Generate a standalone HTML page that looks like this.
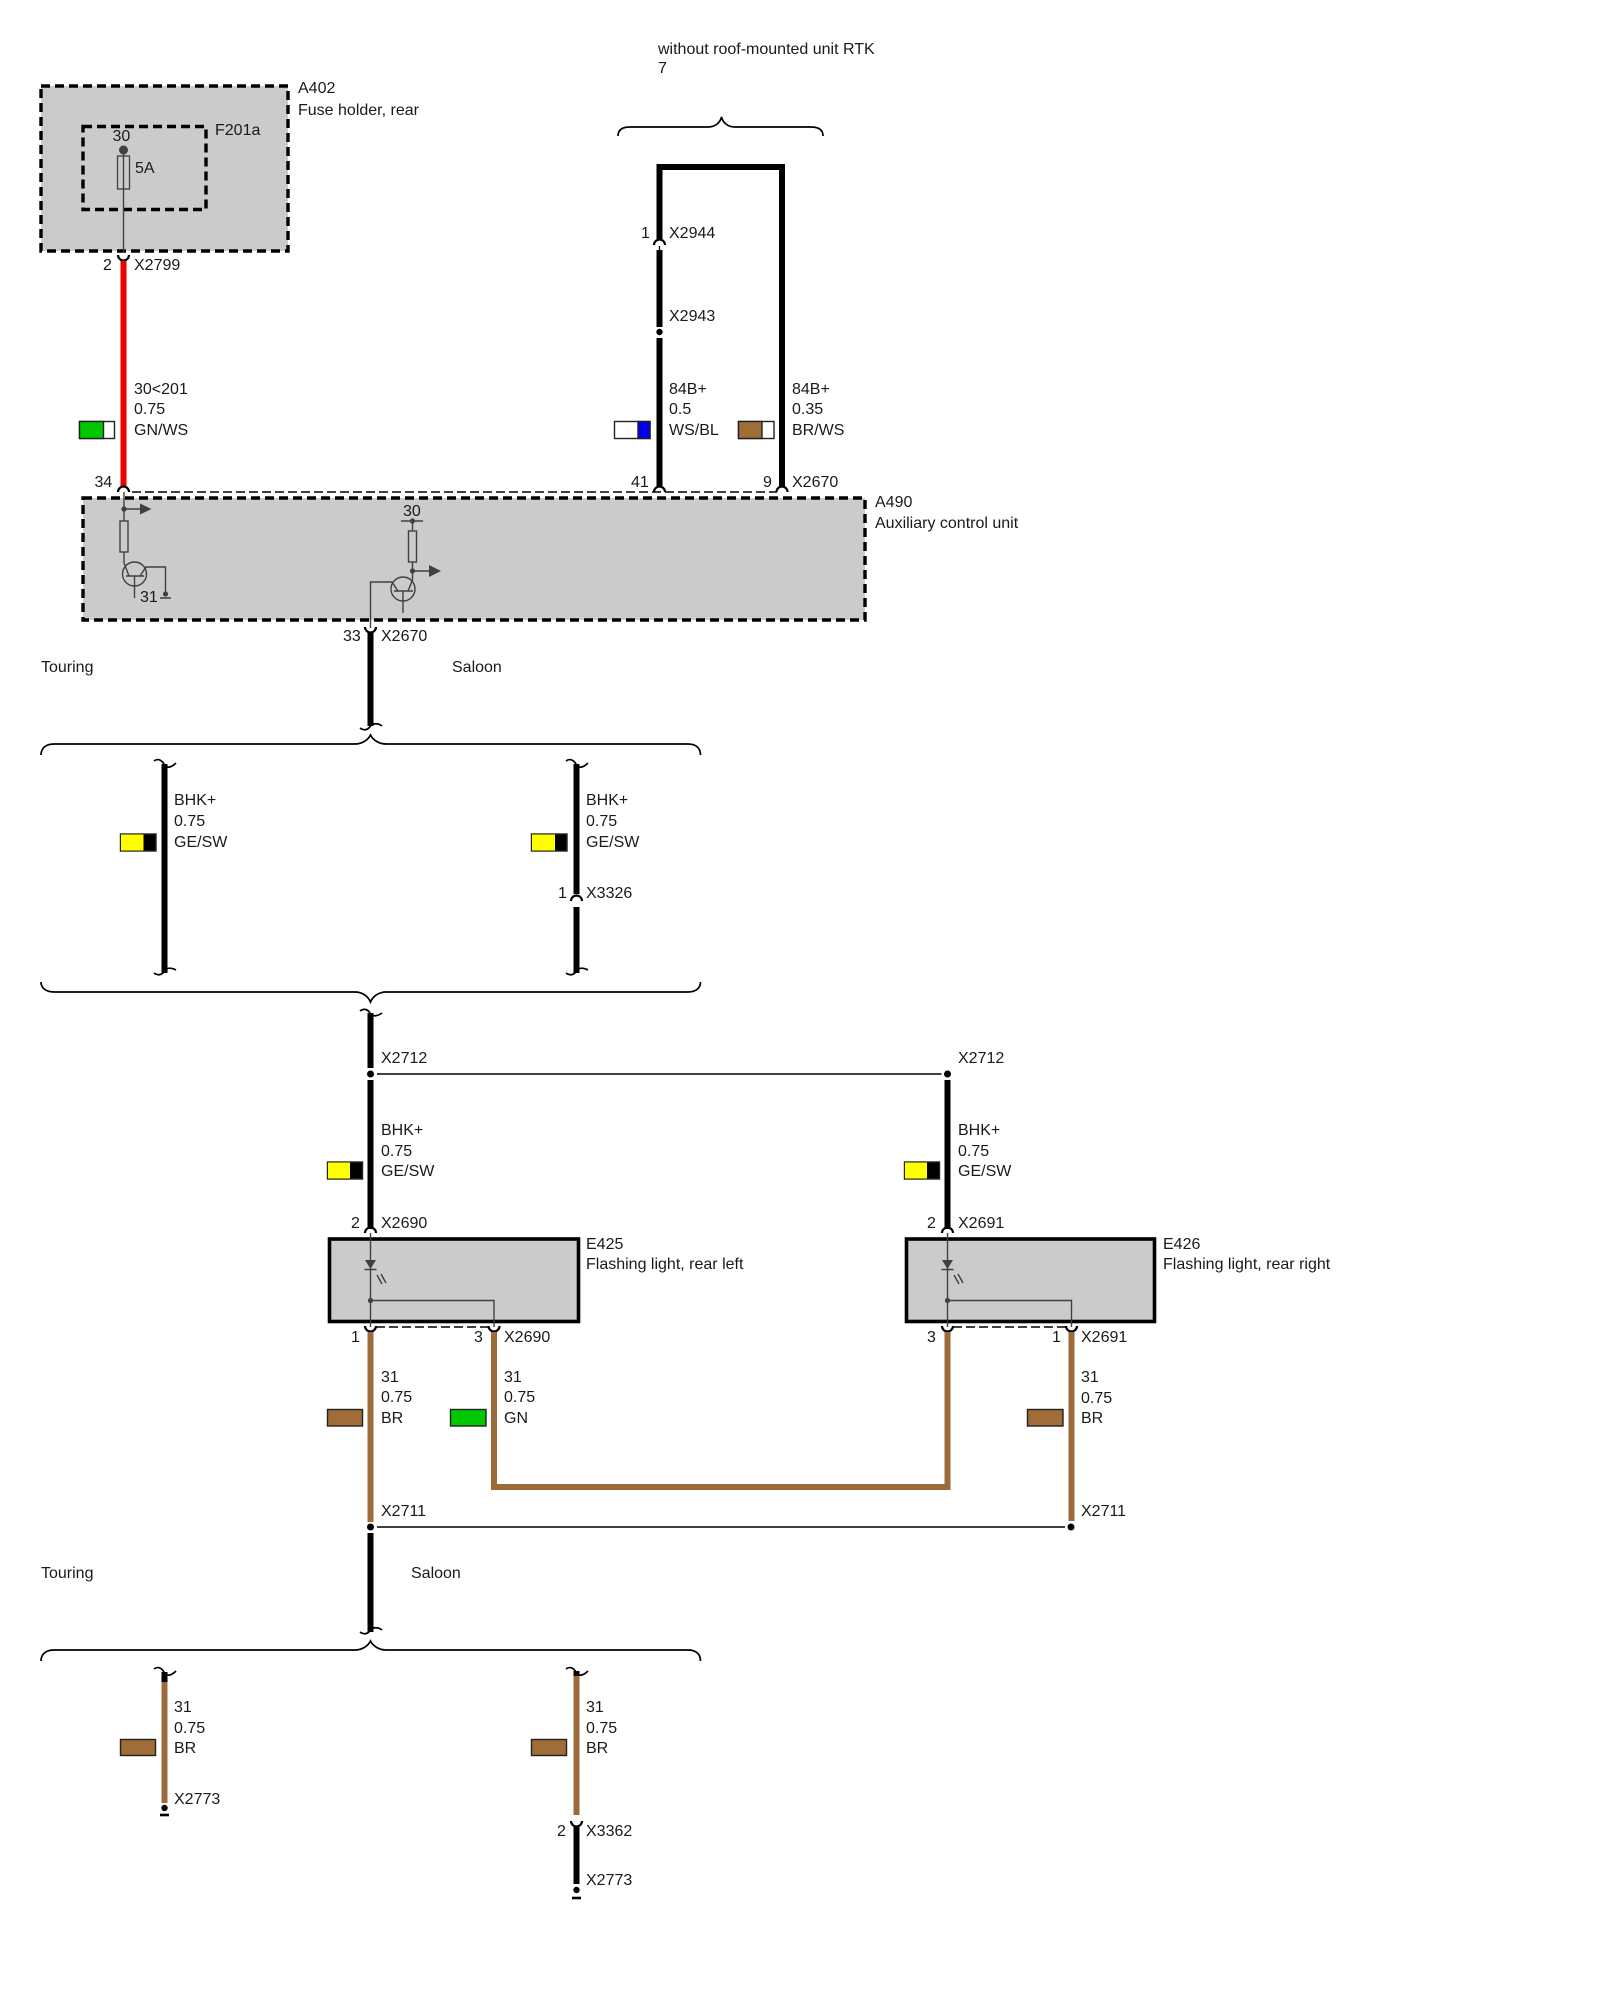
<!DOCTYPE html>
<html><head><meta charset="utf-8"><style>
html,body{margin:0;padding:0;background:#fff}
svg{display:block}
text{font-family:"Liberation Sans",sans-serif;font-size:16px;fill:#1a1a1a}
.w{fill:none;stroke:#000;stroke-width:6}
.b{fill:none;stroke:#9c6b3c;stroke-width:6}
.t{fill:none;stroke:#000;stroke-width:1.7}
.i{fill:none;stroke:#404040;stroke-width:1.4}
.d{fill:none;stroke:#000;stroke-width:1.4;stroke-dasharray:9 4}
.a{fill:none;stroke:#000;stroke-width:2.2}
.box{fill:#cbcbcb;stroke:#000;stroke-width:3.4;stroke-dasharray:9 5}
.sol{fill:#cbcbcb;stroke:#000;stroke-width:3.6}
.s{stroke:#222;stroke-width:1.4}
</style></head><body>
<svg width="1600" height="2000" viewBox="0 0 1600 2000" xmlns="http://www.w3.org/2000/svg">
<!-- A402 -->
<rect class="box" x="41" y="86" width="247" height="165"/>
<rect class="box" x="83" y="126.5" width="123" height="83"/>
<line class="i" x1="123.5" y1="150" x2="123.5" y2="252"/>
<circle cx="123.5" cy="150" r="4.5" fill="#404040"/>
<rect x="117.5" y="156" width="12" height="33" fill="#cbcbcb" stroke="#404040" stroke-width="1.3"/>
<line class="i" x1="123.5" y1="156" x2="123.5" y2="189"/>
<text x="298" y="93">A402</text><text x="298" y="115">Fuse holder, rear</text>
<text x="215" y="135">F201a</text><text x="112.5" y="141">30</text><text x="135" y="173">5A</text>
<path class="a" d="M118,255 A5.5,5.5 0 0 0 129,255"/>
<line x1="123.5" y1="261" x2="123.5" y2="486" stroke="#ee0000" stroke-width="6"/>
<text x="103" y="270">2</text><text x="134" y="270">X2799</text>
<text x="134" y="394">30&lt;201</text><text x="134" y="414">0.75</text><text x="134" y="435">GN/WS</text>
<rect class="s" x="79.5" y="421.5" width="35" height="17" fill="#fff"/><rect x="79.5" y="421.5" width="24" height="17" fill="#00c800" class="s"/>

<!-- top right -->
<text x="658" y="54">without roof-mounted unit RTK</text><text x="658" y="73">7</text>
<path class="t" d="M618,136 C618,130 622,127 630,127 L708,127 C715,127 720,123 721.5,117 C723,123 728,127 735,127 L811,127 C819,127 823,130 823,136"/>
<path class="w" d="M659.5,240 V167 H782 V487"/>
<path class="a" d="M654,245 A5.5,5.5 0 0 1 665,245"/>
<line x1="659.5" y1="246" x2="659.5" y2="250" stroke="#000" stroke-width="1.3"/>
<line class="w" x1="659.5" y1="250" x2="659.5" y2="327"/>
<circle cx="659.5" cy="332" r="3.2" fill="#000"/>
<line class="w" x1="659.5" y1="338" x2="659.5" y2="487"/>
<text x="641" y="238">1</text><text x="669" y="238">X2944</text><text x="669" y="321">X2943</text>
<text x="669" y="394">84B+</text><text x="669" y="414">0.5</text><text x="669" y="435">WS/BL</text>
<text x="792" y="394">84B+</text><text x="792" y="414">0.35</text><text x="792" y="435">BR/WS</text>
<rect class="s" x="614.5" y="421.5" width="35.5" height="17" fill="#fff"/><rect class="s" x="638" y="421.5" width="12" height="17" fill="#0000ee"/>
<rect class="s" x="738.5" y="421.5" width="35.5" height="17" fill="#fff"/><rect class="s" x="738.5" y="421.5" width="23.5" height="17" fill="#a06c38"/>
<text x="631" y="487">41</text><text x="763" y="487">9</text><text x="792" y="487">X2670</text>

<!-- A490 -->
<line class="d" x1="132" y1="492" x2="777" y2="492"/>
<rect class="box" x="83" y="498" width="782" height="122"/>
<path class="a" d="M118,492 A5.5,5.5 0 0 1 129,492 M654,492 A5.5,5.5 0 0 1 665,492 M776.5,492 A5.5,5.5 0 0 1 787.5,492"/>
<text x="94.5" y="487">34</text>
<text x="875" y="507">A490</text><text x="875" y="528">Auxiliary control unit</text>
<!-- left transistor -->
<path class="i" d="M124,492 V521 M124,552 V563 L129,576 M124,509 H141 M126,576 H144 M134.5,576 V598 M140,576 L146,567 H165.5 V594 M160,598 H171"/>
<circle cx="124" cy="509" r="2.6" fill="#404040"/><path d="M140,503.5 L151.5,509 L140,514.5 Z" fill="#404040"/>
<rect class="i" x="120" y="521" width="8" height="31"/>
<circle class="i" cx="134.5" cy="574" r="12"/>
<circle cx="165.5" cy="594" r="2.6" fill="#404040"/>
<text x="140" y="602">31</text>
<!-- right transistor -->
<text x="403" y="516">30</text>
<path class="i" d="M401,521 H423 M412.5,521 V531 M412.5,562 V580 L408,591 M412.5,571 H429 M394,591 H413 M403,591 V613 M398,591 L392,582 H370.5 V628"/>
<circle cx="412.5" cy="521" r="2.6" fill="#404040"/><circle cx="412.5" cy="571" r="2.6" fill="#404040"/>
<path d="M429,565 L441,571 L429,577 Z" fill="#404040"/>
<rect class="i" x="408.5" y="531" width="8" height="31"/>
<circle class="i" cx="403" cy="589" r="12"/>
<path class="a" d="M365,627 A5.5,5.5 0 0 0 376,627"/>
<line class="w" x1="370.5" y1="633" x2="370.5" y2="726"/>
<path class="t" d="M360,728 C364,731 368,730 370.5,726 C373,723 378,723 382,726"/>
<text x="343" y="641">33</text><text x="381" y="641">X2670</text>
<text x="41" y="672">Touring</text><text x="452" y="672">Saloon</text>

<!-- brace 2 -->
<path class="t" d="M41,755 C41,748 46,744 54,744 L355,744 C362,744 368,740 370.5,735 C373,740 379,744 386,744 L688,744 C696,744 700.5,748 700.5,755"/>
<path class="t" d="M154,761 C158,758 162,760 164.5,765 C167,769 172,767 176,763"/>
<line class="w" x1="164.5" y1="764" x2="164.5" y2="973"/>
<path class="t" d="M154,973 C158,976 162,975 164.5,971 C167,967 172,968 176,970"/>
<text x="174" y="805">BHK+</text><text x="174" y="826">0.75</text><text x="174" y="847">GE/SW</text>
<rect class="s" x="120.5" y="834" width="35.5" height="17" fill="#000"/><rect x="121" y="834.5" width="22.5" height="16" fill="#ffff00"/>

<path class="t" d="M566,761 C570,758 574,760 576.5,765 C579,769 584,767 588,763"/>
<line class="w" x1="576.5" y1="764" x2="576.5" y2="894"/>
<path class="a" d="M571,901 A5.5,5.5 0 0 1 582,901"/>
<line class="w" x1="576.5" y1="907" x2="576.5" y2="973"/>
<path class="t" d="M566,973 C570,976 574,975 576.5,971 C579,967 584,968 588,970"/>
<text x="586" y="805">BHK+</text><text x="586" y="826">0.75</text><text x="586" y="847">GE/SW</text>
<rect class="s" x="531.5" y="834" width="35.5" height="17" fill="#000"/><rect x="532" y="834.5" width="23" height="16" fill="#ffff00"/>
<text x="558" y="898">1</text><text x="586" y="898">X3326</text>

<path class="t" d="M41,982 C41,988 46,992 54,992 L355,992 C362,992 368,996 370.5,1002 C373,996 379,992 386,992 L688,992 C696,992 700.5,988 700.5,982"/>
<path class="t" d="M360,1011 C364,1008 368,1009 370.5,1014 C373,1017 378,1016 382,1013"/>
<line class="w" x1="370.5" y1="1013" x2="370.5" y2="1068"/>
<circle cx="370.5" cy="1074" r="3.5" fill="#000"/>
<line x1="377" y1="1074" x2="941.5" y2="1074" stroke="#000" stroke-width="1.5"/>
<circle cx="947.5" cy="1074" r="3.5" fill="#000"/>
<text x="381" y="1063">X2712</text><text x="958" y="1063">X2712</text>
<line class="w" x1="370.5" y1="1080" x2="370.5" y2="1229"/>
<line class="w" x1="947.5" y1="1080" x2="947.5" y2="1229"/>
<text x="381" y="1135">BHK+</text><text x="381" y="1156">0.75</text><text x="381" y="1176">GE/SW</text>
<text x="958" y="1135">BHK+</text><text x="958" y="1156">0.75</text><text x="958" y="1176">GE/SW</text>
<rect class="s" x="327.5" y="1162" width="35" height="17" fill="#000"/><rect x="328" y="1162.5" width="22" height="16" fill="#ffff00"/>
<rect class="s" x="904.5" y="1162" width="35" height="17" fill="#000"/><rect x="905" y="1162.5" width="22" height="16" fill="#ffff00"/>
<text x="351" y="1228">2</text><text x="381" y="1228">X2690</text>
<text x="927" y="1228">2</text><text x="958" y="1228">X2691</text>
<path class="a" d="M365,1233 A5.5,5.5 0 0 1 376,1233 M942,1233 A5.5,5.5 0 0 1 953,1233"/>

<!-- E425 -->
<rect class="sol" x="329.5" y="1239" width="249" height="82.5"/>
<rect class="sol" x="906.5" y="1239" width="248" height="82.5"/>
<path class="i" d="M370.5,1233 V1327 M370.5,1300.5 H494 V1327"/>
<path d="M365,1260 H376 L370.5,1269 Z" fill="#404040"/><path class="i" d="M364.5,1269.5 H376.5 M377,1275 L382,1284 M381,1274 L386,1283"/>
<circle cx="370.5" cy="1300.5" r="2.6" fill="#404040"/>
<path class="i" d="M947.5,1233 V1327 M947.5,1300.5 H1071.5 V1327"/>
<path d="M942,1260 H953 L947.5,1269 Z" fill="#404040"/><path class="i" d="M941.5,1269.5 H953.5 M954,1275 L959,1284 M958,1274 L963,1283"/>
<circle cx="947.5" cy="1300.5" r="2.6" fill="#404040"/>
<text x="586" y="1249">E425</text><text x="586" y="1269">Flashing light, rear left</text>
<text x="1163" y="1249">E426</text><text x="1163" y="1269">Flashing light, rear right</text>
<line class="d" x1="376" y1="1327" x2="488" y2="1327"/>
<line class="d" x1="953" y1="1327" x2="1066" y2="1327"/>
<path class="a" d="M365,1326 A5.5,5.5 0 0 0 376,1326 M488.5,1326 A5.5,5.5 0 0 0 499.5,1326 M942,1326 A5.5,5.5 0 0 0 953,1326 M1066,1326 A5.5,5.5 0 0 0 1077,1326"/>
<text x="351" y="1342">1</text><text x="474" y="1342">3</text><text x="504" y="1342">X2690</text>
<text x="927" y="1342">3</text><text x="1052" y="1342">1</text><text x="1081" y="1342">X2691</text>
<line class="b" x1="370.5" y1="1332" x2="370.5" y2="1522"/>
<path class="b" d="M494,1332 V1487 H947.5 V1332"/>
<line class="b" x1="1071.5" y1="1332" x2="1071.5" y2="1521"/>
<text x="381" y="1382">31</text><text x="381" y="1402">0.75</text><text x="381" y="1423">BR</text>
<text x="504" y="1382">31</text><text x="504" y="1402">0.75</text><text x="504" y="1423">GN</text>
<text x="1081" y="1382">31</text><text x="1081" y="1403">0.75</text><text x="1081" y="1423">BR</text>
<rect class="s" x="327.5" y="1409.5" width="35" height="16.5" fill="#a06c38"/>
<rect class="s" x="450.5" y="1409.5" width="35.5" height="16.5" fill="#00c800"/>
<rect class="s" x="1027.5" y="1409.5" width="35.5" height="16.5" fill="#a06c38"/>
<text x="381" y="1516">X2711</text><text x="1081" y="1516">X2711</text>
<circle cx="370.5" cy="1527" r="3.5" fill="#000"/>
<line x1="377" y1="1527" x2="1065" y2="1527" stroke="#000" stroke-width="1.5"/>
<circle cx="1071" cy="1527" r="3.5" fill="#000"/>
<line class="w" x1="370.5" y1="1533" x2="370.5" y2="1632"/>
<path class="t" d="M360,1632 C364,1635 368,1634 370.5,1630 C373,1627 378,1627 382,1630"/>
<text x="41" y="1578">Touring</text><text x="411" y="1578">Saloon</text>

<!-- brace 3 -->
<path class="t" d="M41,1661 C41,1654 46,1650 54,1650 L355,1650 C362,1650 368,1646 370.5,1641 C373,1646 379,1650 386,1650 L688,1650 C696,1650 700.5,1654 700.5,1661"/>
<path class="t" d="M154,1669 C158,1666 162,1668 164.5,1673 C167,1677 172,1675 176,1671"/>
<line class="w" x1="164.5" y1="1672" x2="164.5" y2="1682"/>
<line class="b" x1="164.5" y1="1682" x2="164.5" y2="1803"/>
<circle cx="164.5" cy="1808" r="3.2" fill="#000"/>
<line x1="160" y1="1815" x2="169" y2="1815" stroke="#000" stroke-width="2.6"/>
<text x="174" y="1712">31</text><text x="174" y="1733">0.75</text><text x="174" y="1753">BR</text><text x="174" y="1804">X2773</text>
<rect class="s" x="120.5" y="1739.5" width="35" height="16" fill="#a06c38"/>

<path class="t" d="M566,1669 C570,1666 574,1668 576.5,1673 C579,1677 584,1675 588,1671"/>
<line class="w" x1="576.5" y1="1671" x2="576.5" y2="1676"/>
<line class="b" x1="576.5" y1="1676" x2="576.5" y2="1815"/>
<path class="a" d="M571,1821 A5.5,5.5 0 0 0 582,1821"/>
<line class="w" x1="576.5" y1="1827" x2="576.5" y2="1884"/>
<circle cx="576.5" cy="1890" r="3.2" fill="#000"/>
<line x1="572" y1="1898" x2="581" y2="1898" stroke="#000" stroke-width="2.6"/>
<text x="586" y="1712">31</text><text x="586" y="1733">0.75</text><text x="586" y="1753">BR</text>
<text x="557" y="1836">2</text><text x="586" y="1836">X3362</text><text x="586" y="1885">X2773</text>
<rect class="s" x="531.5" y="1739.5" width="35" height="16" fill="#a06c38"/>
</svg>
</body></html>
